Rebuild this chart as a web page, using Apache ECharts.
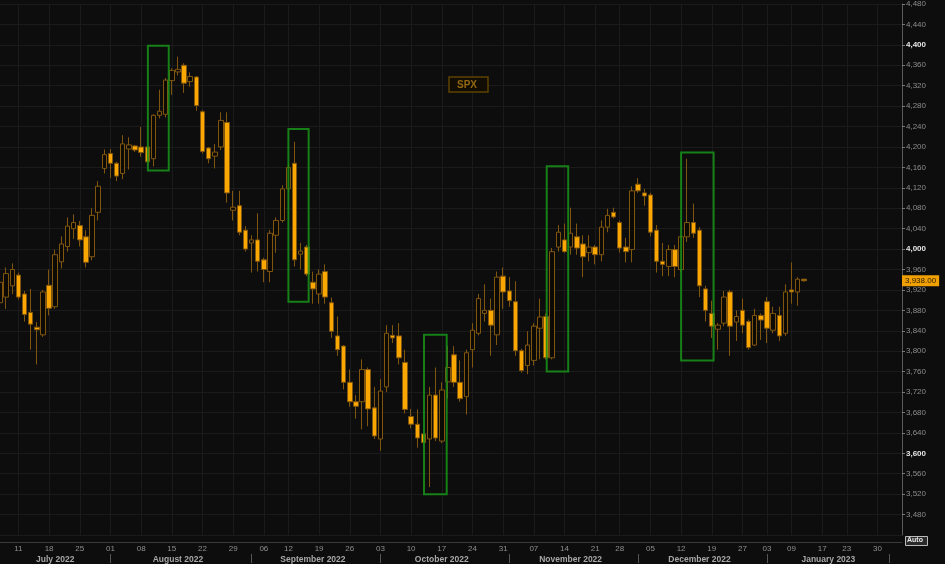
<!DOCTYPE html>
<html>
<head>
<meta charset="utf-8">
<script src="https://cdn.jsdelivr.net/npm/echarts@6/dist/echarts.min.js"></script>
<style>
html,body{margin:0;padding:0;background:#0d0d0d;}
#chart{width:945px;height:564px;}
</style>
</head>
<body>
<div id="chart"></div>
<script>
// Trading days (category axis), Jul 2022 - early Feb 2023
const dates = [
 '2022-07-06','2022-07-07','2022-07-08','2022-07-11','2022-07-12','2022-07-13','2022-07-14','2022-07-15','2022-07-18','2022-07-19','2022-07-20','2022-07-21','2022-07-22','2022-07-25','2022-07-26','2022-07-27','2022-07-28','2022-07-29',
 '2022-08-01','2022-08-02','2022-08-03','2022-08-04','2022-08-05','2022-08-08','2022-08-09','2022-08-10','2022-08-11','2022-08-12','2022-08-15','2022-08-16','2022-08-17','2022-08-18','2022-08-19','2022-08-22','2022-08-23','2022-08-24','2022-08-25','2022-08-26','2022-08-29','2022-08-30','2022-08-31',
 '2022-09-01','2022-09-02','2022-09-06','2022-09-07','2022-09-08','2022-09-09','2022-09-12','2022-09-13','2022-09-14','2022-09-15','2022-09-16','2022-09-19','2022-09-20','2022-09-21','2022-09-22','2022-09-23','2022-09-26','2022-09-27','2022-09-28','2022-09-29','2022-09-30',
 '2022-10-03','2022-10-04','2022-10-05','2022-10-06','2022-10-07','2022-10-10','2022-10-11','2022-10-12','2022-10-13','2022-10-14','2022-10-17','2022-10-18','2022-10-19','2022-10-20','2022-10-21','2022-10-24','2022-10-25','2022-10-26','2022-10-27','2022-10-28','2022-10-31',
 '2022-11-01','2022-11-02','2022-11-03','2022-11-04','2022-11-07','2022-11-08','2022-11-09','2022-11-10','2022-11-11','2022-11-14','2022-11-15','2022-11-16','2022-11-17','2022-11-18','2022-11-21','2022-11-22','2022-11-23','2022-11-25','2022-11-28','2022-11-29','2022-11-30',
 '2022-12-01','2022-12-02','2022-12-05','2022-12-06','2022-12-07','2022-12-08','2022-12-09','2022-12-12','2022-12-13','2022-12-14','2022-12-15','2022-12-16','2022-12-19','2022-12-20','2022-12-21','2022-12-22','2022-12-23','2022-12-27','2022-12-28','2022-12-29','2022-12-30',
 '2023-01-03','2023-01-04','2023-01-05','2023-01-06','2023-01-09','2023-01-10','2023-01-11','2023-01-12','2023-01-13','2023-01-17','2023-01-18','2023-01-19','2023-01-20','2023-01-23','2023-01-24','2023-01-25','2023-01-26','2023-01-27','2023-01-30','2023-01-31',
 '2023-02-01','2023-02-02','2023-02-03'
];

// OHLC
const open = [3895,3906,3928,3949,3912,3876,3847,3832,3929,3887,3975,4005,4040,4046,4024,3985,4072,4158,4187,4168,
 4148,4196,4202,4200,4200,4177,4262,4264,4330,4347,4360,4328,4337,4269,4198,4182,4200,4248,4076,4085,
 4037,4012,4018,3979,3956,4027,4056,4118,4168,3990,4004,3935,3912,3956,3895,3830,3810,3739,3701,3701,
 3764,3689,3628,3730,3831,3830,3778,3672,3657,3638,3628,3714,3624,3740,3793,3739,3711,3803,3835,3874,
 3880,3832,3947,3918,3897,3801,3772,3782,3845,3868,3787,4004,4018,4004,4024,4010,3993,4004,3989,4043,
 4072,4052,4004,3999,4127,4110,4106,4037,3976,3966,3999,3960,4024,4052,4037,3922,3874,3843,3855,3916,
 3857,3880,3858,3812,3870,3897,3841,3870,3835,3920,3916,3941];
const close = [3935,3952,3960,3906,3872,3853,3842,3916,3884,3989,4010,4045,4052,4018,3974,4066,4123,4185,4168,4143,
 4206,4204,4194,4189,4171,4262,4270,4331,4350,4352,4325,4338,4281,4191,4177,4190,4252,4110,4082,4033,
 4000,4018,3976,3960,4031,4056,4118,4160,3979,3996,3951,3922,3951,3906,3839,3803,3739,3701,3692,3764,
 3687,3634,3722,3835,3826,3787,3686,3657,3630,3621,3714,3630,3724,3768,3739,3707,3797,3841,3903,3880,
 3851,3945,3916,3899,3801,3762,3812,3849,3867,3787,3995,4033,3995,4031,4002,3985,4004,3989,4043,4066,
 4063,4002,3995,4114,4114,4104,4033,3976,3970,3999,3966,4024,4052,4031,3928,3880,3849,3851,3906,3849,
 3868,3851,3807,3870,3861,3845,3874,3830,3916,3916,3941,3938];
const low = [3880,3883,3912,3901,3858,3803,3774,3828,3870,3883,3962,3995,4020,4005,3964,3978,4056,4148,4139,4133,
 4137,4156,4190,4181,4165,4162,4256,4258,4302,4340,4306,4318,4271,4187,4168,4158,4194,4091,4056,4027,
 3995,3954,3956,3935,3935,3993,4052,4110,3966,3960,3947,3893,3893,3893,3826,3791,3725,3691,3668,3647,
 3653,3628,3605,3720,3816,3774,3678,3649,3611,3615,3534,3624,3620,3707,3730,3701,3676,3768,3831,3858,
 3791,3812,3883,3887,3791,3758,3755,3772,3784,3784,3784,3995,3993,3989,3989,3945,3976,3970,3976,4033,
 4060,3993,3974,3974,4110,4085,4025,3954,3947,3947,3945,3954,4014,4022,3906,3858,3826,3803,3849,3791,
 3820,3835,3803,3810,3822,3816,3835,3820,3830,3893,3889,3936];
const high = [3958,3964,3972,3954,3918,3922,3857,3920,3960,3999,4025,4062,4068,4055,4037,4080,4133,4195,4196,4171,
 4223,4219,4204,4239,4203,4264,4312,4335,4354,4377,4364,4346,4339,4272,4200,4206,4268,4268,4114,4114,
 4045,4027,4070,3983,4037,4062,4125,4168,4210,4012,4008,3956,3960,3970,3905,3868,3812,3764,3714,3784,
 3768,3730,3745,3851,3851,3855,3803,3687,3686,3641,3730,3768,3739,3810,3810,3782,3803,3855,3912,3931,
 3903,3956,3964,3945,3937,3805,3839,3855,3903,3874,4002,4047,4050,4081,4050,4027,4027,4008,4056,4079,
 4081,4056,4022,4123,4139,4118,4110,4047,4012,4008,4008,4027,4177,4089,4043,3928,3899,3855,3918,3920,
 3880,3903,3862,3883,3874,3906,3887,3887,3931,3974,3945,3942];

// Highlight boxes: [fromIndex, toIndex, lowValue, highValue]
const boxes = [
 [24.1, 27.5, 4154, 4398],
 [47.0, 50.3, 3897, 4235],
 [69.1, 72.8, 3520, 3832],
 [89.1, 92.6, 3760, 4162],
 [111.0, 116.3, 3782, 4189]
];
const lastPrice = 3938.00;
const seriesName = 'SPX';
const monthNames = ['January','February','March','April','May','June','July','August','September','October','November','December'];

const ohlc = open.map((o, i) => [o, close[i], low[i], high[i]]);

const dow = dates.map(d => new Date(d + 'T00:00:00Z').getUTCDay());
const mon = dates.map(d => +d.slice(5, 7));
const weekStart = dates.map((d, i) => i > 0 && dow[i] < dow[i - 1]);
const monthStartIdx = [0];
dates.forEach((d, i) => { if (i > 0 && mon[i] !== mon[i - 1]) monthStartIdx.push(i); });
const monthStartSet = new Set(monthStartIdx.slice(1));
const monthLabelSet = new Set();
for (let k = 0; k < monthStartIdx.length; k++) {
  const s = monthStartIdx[k];
  const e = k + 1 < monthStartIdx.length ? monthStartIdx[k + 1] : dates.length - 1;
  if (e - s > 5) monthLabelSet.add(Math.floor((s + e) / 2));
}
const fmt = v => String(v).replace(/\B(?=(\d{3})+(?!\d))/g, ',');

const chart = echarts.init(document.getElementById('chart'));
chart.setOption({
  animation: false,
  backgroundColor: '#0d0d0d',
  textStyle: { fontFamily: 'Liberation Sans, Arial, sans-serif' },
  legend: {
    data: [seriesName], left: 449, top: 77, icon: 'rect', itemWidth: 0, itemHeight: 0,
    selectedMode: false, borderColor: '#5e4200', borderWidth: 1.5, backgroundColor: '#120d04',
    padding: [3, 11, 2, 2], borderRadius: 0,
    textStyle: { color: '#93680f', fontSize: 10, fontWeight: 'bold' }
  },
  grid: { left: -1, top: -6, width: 903, height: 542 },
  xAxis: [
    {
      type: 'category', data: dates, boundaryGap: false, offset: 7,
      axisLine: { show: true, onZero: false, lineStyle: { color: '#3a3a3a' } },
      axisTick: { show: false },
      axisLabel: {
        interval: (i) => weekStart[i], margin: 3, fontSize: 8, color: '#8f8f8f',
        formatter: v => v.slice(8, 10)
      },
      splitLine: { show: true, interval: (i) => weekStart[i], lineStyle: { color: '#1b1b1b', width: 1 } }
    },
    {
      type: 'category', data: dates, boundaryGap: false, offset: 19, position: 'bottom',
      axisLine: { show: false, onZero: false },
      axisTick: { show: true, interval: (i) => monthStartSet.has(i), length: 9, lineStyle: { color: '#555' } },
      axisLabel: {
        interval: (i) => monthLabelSet.has(i), margin: 1, fontSize: 8.5, fontWeight: 'bold', color: '#a8a8a8',
        formatter: v => monthNames[+v.slice(5, 7) - 1] + ' ' + v.slice(0, 4)
      },
      splitLine: { show: false }
    },
    { type: 'value', min: 0, max: dates.length - 1, show: false, axisLine: { onZero: false } }
  ],
  yAxis: {
    type: 'value', position: 'right', min: 3440, max: 4480, interval: 40,
    axisLine: { show: true, onZero: false, lineStyle: { color: '#5a5a5a' } },
    axisTick: { show: true, length: 3, lineStyle: { color: '#777' } },
    axisLabel: {
      margin: 4, fontSize: 8, color: '#8c8c8c', showMinLabel: false,
      formatter: v => (v % 400 === 0 ? '{b|' + fmt(v) + '}' : fmt(v)),
      rich: { b: { color: '#e6e6e6', fontWeight: 'bold', fontSize: 8 } }
    },
    splitLine: { show: true, lineStyle: { color: '#1b1b1b' } }
  },
  series: [
    {
      name: seriesName, type: 'candlestick', data: ohlc, xAxisIndex: 0, yAxisIndex: 0,
      barWidth: 5,
      itemStyle: {
        color: '#0d0a05', borderColor: '#80560f',
        color0: '#fba702', borderColor0: '#80560f', borderWidth: 1
      },
      markLine: {
        silent: true, symbol: ['none', 'none'],
        lineStyle: { color: 'rgba(0,0,0,0)', width: 1, type: 'solid' },
        label: {
          show: true, position: 'end', distance: 0,
          formatter: lastPrice.toFixed(2).replace(/\B(?=(\d{3})+(?!\d))/g, ','),
          backgroundColor: '#f0a000', color: '#2a1a00', fontSize: 8, padding: [2, 3, 1, 3]
        },
        data: [{ yAxis: lastPrice }]
      }
    },
    {
      type: 'custom', xAxisIndex: 2, yAxisIndex: 0, data: boxes, silent: true, z: 5, clip: false,
      encode: { x: [0, 1], y: [2, 3] },
      renderItem: (params, api) => {
        const p1 = api.coord([api.value(0), api.value(3)]);
        const p2 = api.coord([api.value(1), api.value(2)]);
        return {
          type: 'rect',
          shape: { x: p1[0], y: p1[1], width: p2[0] - p1[0], height: p2[1] - p1[1] },
          style: { fill: 'none', stroke: 'rgba(24,140,24,0.9)', lineWidth: 2 }
        };
      }
    }
  ],
  graphic: [
    { type: 'rect', left: 905, top: 536, shape: { width: 22, height: 9 }, style: { fill: '#2a2a2a', stroke: '#bbb', lineWidth: 1 } },
    { type: 'text', left: 907, top: 537, style: { text: 'Auto', fill: '#e8e8e8', font: 'bold 7px Liberation Sans, Arial' } }
  ]
});
</script>
</body>
</html>
